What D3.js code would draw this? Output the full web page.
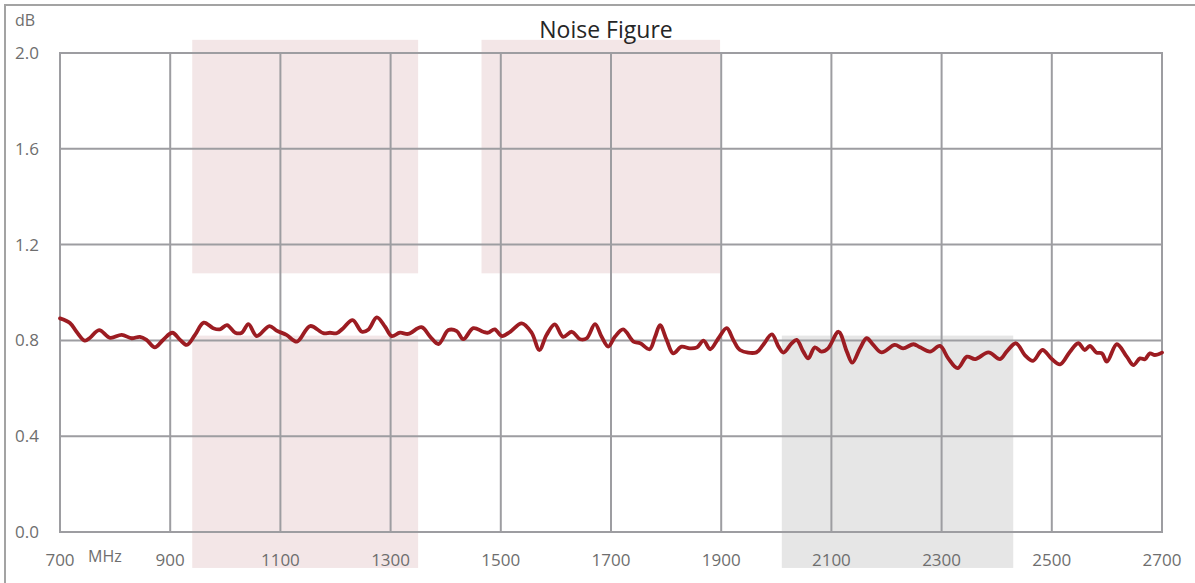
<!DOCTYPE html>
<html>
<head>
<meta charset="utf-8">
<script src="https://cdn.jsdelivr.net/npm/d3@7"></script>
<style>
	html, body { margin: 0; padding: 0; background: #FFFFFF; }
	svg { display: block; font-family: "Open Sans", "Noto Sans", sans-serif; }
</style>
</head>
<body>
<svg id="chart"></svg>
<script>
// frequency (MHz) and noise figure (dB)
var freqs = [700, 718, 730, 745, 754, 771, 791, 812, 830, 845, 857, 872, 887, 904, 918, 930,
	945, 961, 978, 990, 1003, 1018, 1030, 1042, 1057, 1080, 1093, 1111, 1130, 1154, 1178, 1190,
	1202, 1214, 1231, 1248, 1260, 1275, 1290, 1302, 1317, 1332, 1356, 1372, 1387, 1405, 1420, 1432,
	1450, 1468, 1477, 1489, 1502, 1517, 1538, 1556, 1570, 1583, 1598, 1613, 1629, 1644, 1656, 1671,
	1683, 1695, 1707, 1722, 1741, 1753, 1770, 1780, 1789, 1801, 1813, 1828, 1843, 1856, 1868, 1880,
	1895, 1910, 1922, 1934, 1964, 1976, 1992, 2004, 2013, 2028, 2037, 2049, 2058, 2070, 2082, 2094,
	2113, 2128, 2138, 2152, 2164, 2176, 2191, 2215, 2230, 2249, 2261, 2279, 2297, 2312, 2329, 2346,
	2361, 2385, 2406, 2418, 2435, 2451, 2466, 2483, 2500, 2515, 2533, 2548, 2560, 2569, 2581, 2591,
	2600, 2618, 2636, 2648, 2660, 2669, 2678, 2687, 2700];
var noiseFigure = [0.892, 0.873, 0.836, 0.799, 0.810, 0.843, 0.811, 0.823, 0.809, 0.815, 0.802, 0.771, 0.802, 0.832, 0.802, 0.781,
	0.823, 0.874, 0.851, 0.846, 0.864, 0.832, 0.832, 0.868, 0.818, 0.860, 0.841, 0.823, 0.795, 0.860, 0.830, 0.832,
	0.830, 0.851, 0.885, 0.836, 0.846, 0.896, 0.857, 0.818, 0.832, 0.827, 0.855, 0.815, 0.785, 0.843, 0.839, 0.805,
	0.851, 0.836, 0.832, 0.846, 0.818, 0.836, 0.871, 0.832, 0.760, 0.823, 0.867, 0.815, 0.836, 0.805, 0.809, 0.868,
	0.815, 0.774, 0.815, 0.846, 0.795, 0.788, 0.763, 0.815, 0.864, 0.802, 0.746, 0.774, 0.767, 0.771, 0.799, 0.763,
	0.809, 0.851, 0.802, 0.760, 0.750, 0.781, 0.825, 0.774, 0.749, 0.788, 0.802, 0.753, 0.725, 0.771, 0.753, 0.767,
	0.836, 0.753, 0.707, 0.767, 0.809, 0.781, 0.750, 0.781, 0.767, 0.784, 0.771, 0.753, 0.777, 0.725, 0.684, 0.732,
	0.722, 0.750, 0.722, 0.753, 0.788, 0.739, 0.715, 0.760, 0.722, 0.700, 0.753, 0.788, 0.760, 0.777, 0.749, 0.746,
	0.711, 0.784, 0.732, 0.697, 0.725, 0.721, 0.746, 0.739, 0.749];

var xTicks = [700, 900, 1100, 1300, 1500, 1700, 1900, 2100, 2300, 2500, 2700];
var yTicks = [0.0, 0.4, 0.8, 1.2, 1.6, 2.0];

// highlighted bands: [from MHz, to MHz, low dB, high dB]
var pinkBands = [[940, 1350, 1.08, 2.055], [940, 1350, -0.15, 0.82], [1465, 1898, 1.08, 2.055]];
var grayBands = [[2010, 2430, -0.15, 0.82]];

var width = 1195, height = 583;
var margins = {"top": 53, "right": 33, "bottom": 51, "left": 60};

var svg = d3.select("#chart")
	.attr("width", width)
	.attr("height", height);

var x = d3.scaleLinear()
	.domain([700, 2700])
	.range([margins.left, width - margins.right]);
var y = d3.scaleLinear()
	.domain([0, 2])
	.range([height - margins.bottom, margins.top]);

var gridColor = "#9d9da1",
	labelColor = "#6e6e6e";

// outer frame (top and left edges only)
svg.append("path")
	.attr("d", "M5," + height + "V5H" + width)
	.attr("fill", "none")
	.attr("stroke", "#a3a3a3")
	.attr("stroke-width", 2);

// shaded bands
function drawBands(list, color){
	svg.append("g")
		.selectAll("rect")
		.data(list)
		.enter()
		.append("rect")
			.attr("x", function(d){ return x(d[0]); })
			.attr("width", function(d){ return x(d[1]) - x(d[0]); })
			.attr("y", function(d){ return y(d[3]); })
			.attr("height", function(d){ return y(d[2]) - y(d[3]); })
			.attr("fill", color);
}
drawBands(pinkBands, "#f3e6e7");
drawBands(grayBands, "#e6e6e6");

// grid
var grid = svg.append("g")
	.attr("stroke", gridColor)
	.attr("stroke-width", 2);
grid.selectAll("line.v")
	.data(xTicks)
	.enter()
	.append("line")
		.attr("class", "v")
		.attr("x1", function(d){ return x(d); })
		.attr("x2", function(d){ return x(d); })
		.attr("y1", y(2))
		.attr("y2", y(0));
grid.selectAll("line.h")
	.data(yTicks)
	.enter()
	.append("line")
		.attr("class", "h")
		.attr("x1", x(700) - 1)
		.attr("x2", x(2700) + 1)
		.attr("y1", function(d){ return y(d); })
		.attr("y2", function(d){ return y(d); });

// tick labels
svg.append("g")
	.selectAll("text")
	.data(yTicks)
	.enter()
	.append("text")
		.attr("x", 15)
		.attr("y", function(d){ return y(d); })
		.attr("dy", "0.35em")
		.attr("fill", labelColor)
		.attr("font-size", "17px")
		.text(function(d){ return d3.format(".1f")(d); });

svg.append("g")
	.selectAll("text")
	.data(xTicks)
	.enter()
	.append("text")
		.attr("x", function(d){ return x(d); })
		.attr("y", y(0) + 28)
		.attr("dy", "0.35em")
		.attr("text-anchor", "middle")
		.attr("fill", labelColor)
		.attr("font-size", "17px")
		.text(function(d){ return d; });

svg.append("text")
	.attr("x", 15)
	.attr("y", 20)
	.attr("dy", "0.35em")
	.attr("fill", labelColor)
	.attr("font-size", "16px")
	.text("dB");

svg.append("text")
	.attr("x", 88)
	.attr("y", y(0) + 24)
	.attr("dy", "0.35em")
	.attr("fill", labelColor)
	.attr("font-size", "16px")
	.text("MHz");

// title
svg.append("text")
	.attr("x", 606)
	.attr("y", 30)
	.attr("dy", "0.35em")
	.attr("text-anchor", "middle")
	.attr("fill", "#262626")
	.attr("font-size", "23px")
	.text("Noise Figure");

// trace
var line = d3.line()
	.x(function(d){ return x(d[0]); })
	.y(function(d){ return y(d[1]); })
	.curve(d3.curveCatmullRom.alpha(0.5));

svg.append("path")
	.datum(d3.zip(freqs, noiseFigure))
	.attr("d", line)
	.attr("fill", "none")
	.attr("stroke", "#9c1c22")
	.attr("stroke-width", 3.8)
	.attr("stroke-linejoin", "round")
	.attr("stroke-linecap", "round");
</script>
</body>
</html>
